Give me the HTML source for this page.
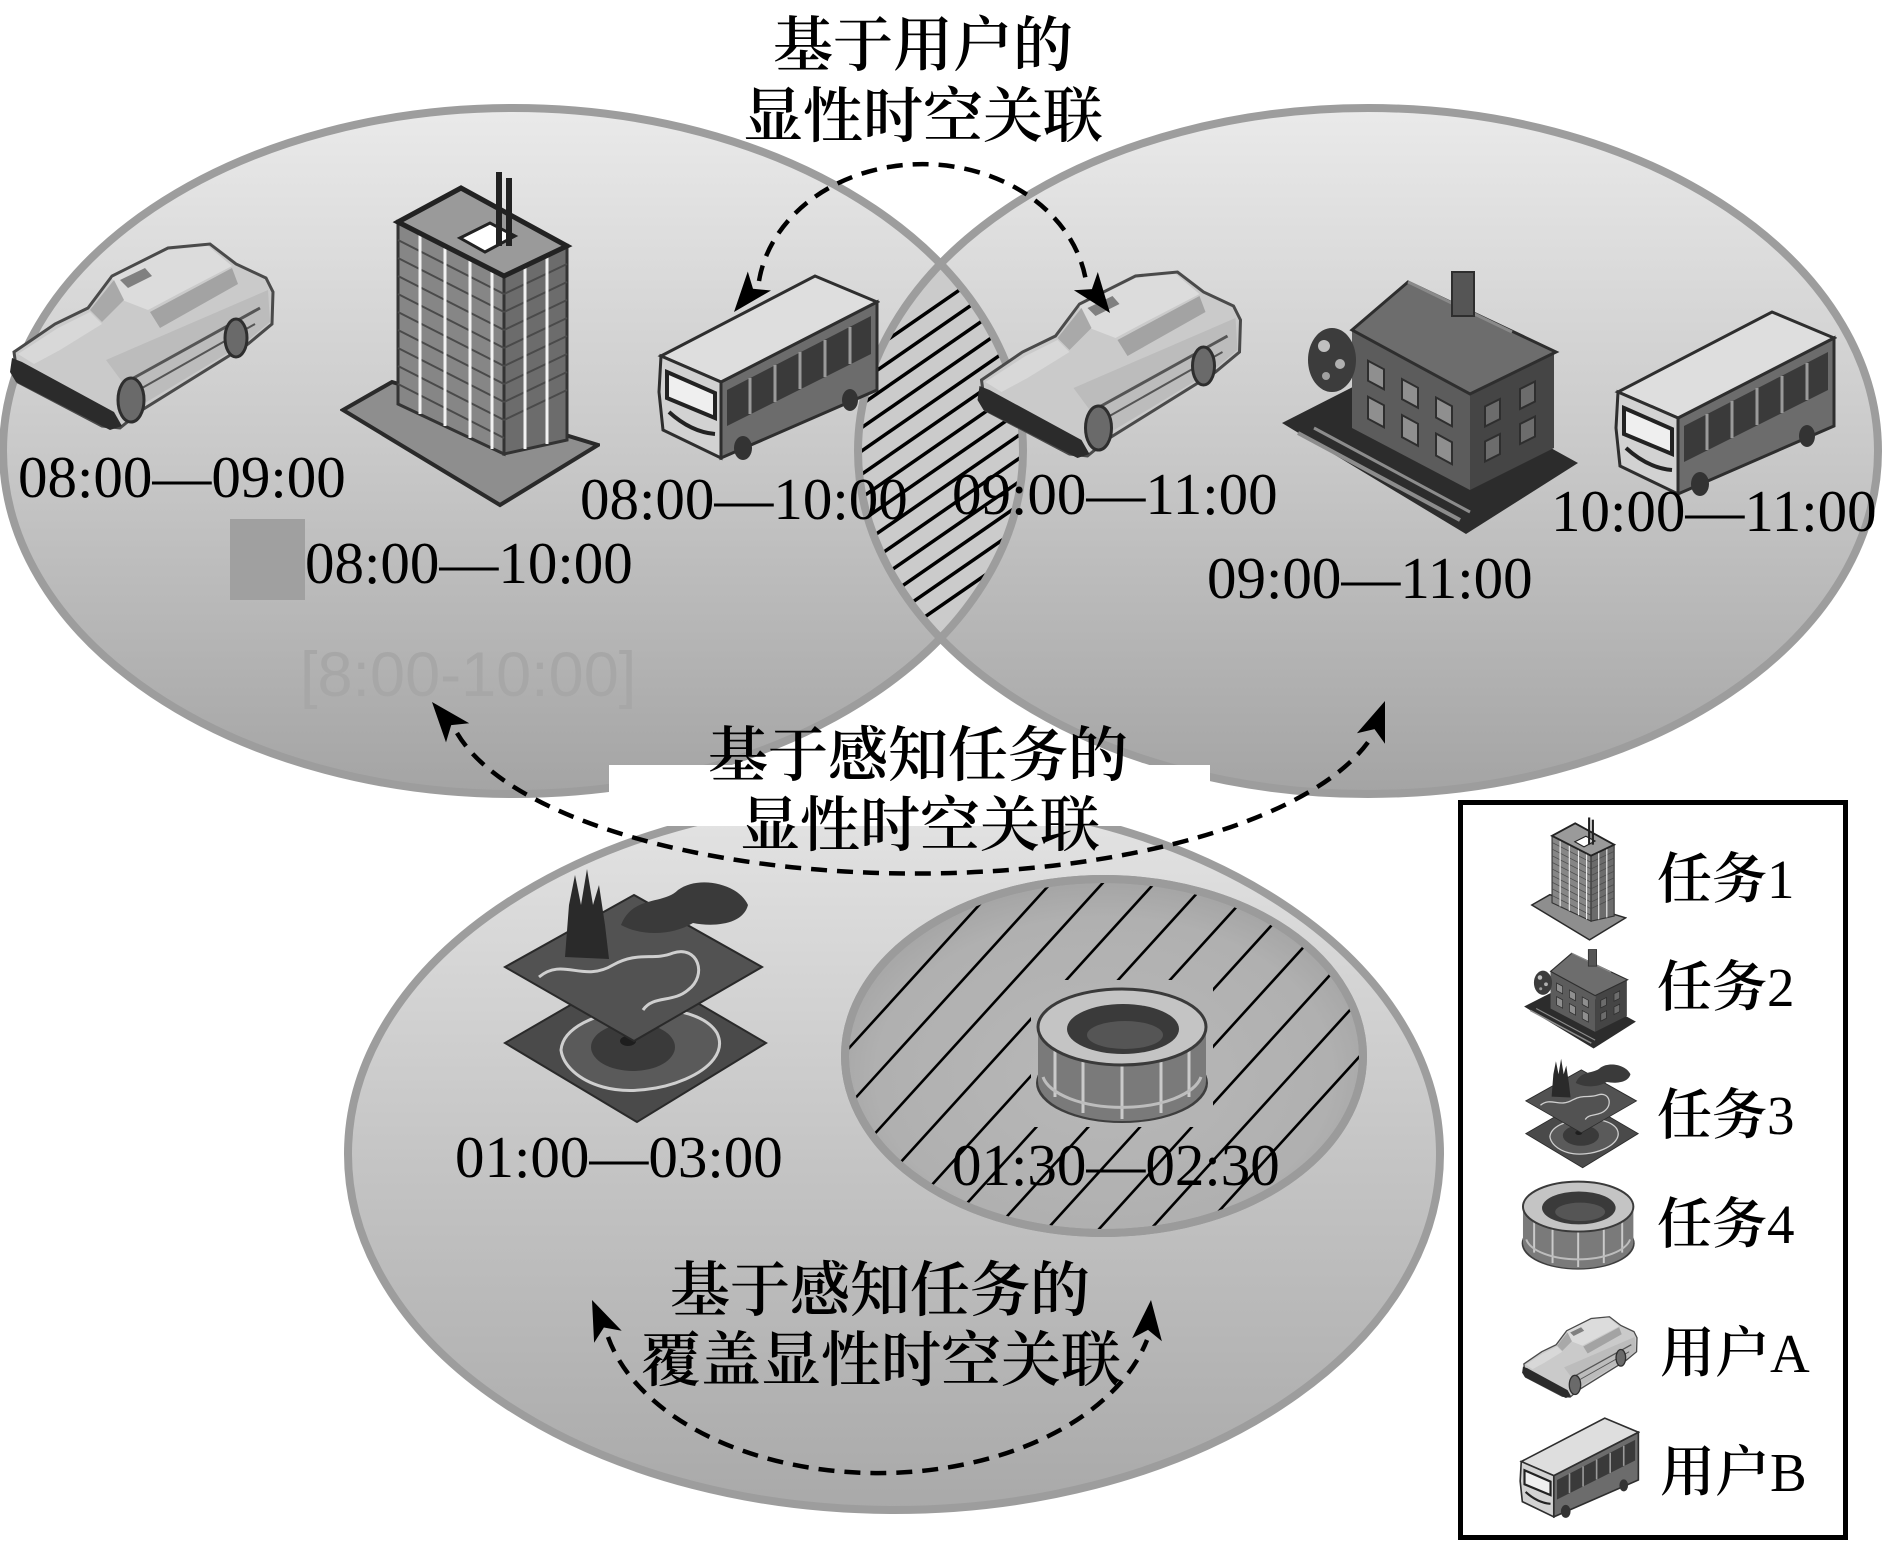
<!DOCTYPE html>
<html><head><meta charset="utf-8">
<style>
html,body{margin:0;padding:0;background:#fff;width:1887px;height:1543px;overflow:hidden;}
svg{display:block;position:absolute;left:0;top:0;overflow:hidden;}
.t{font-family:"Liberation Serif","Times New Roman",serif;font-size:59px;fill:#000;}
.c{font-family:"Liberation Serif","Noto Serif CJK SC","Noto Sans CJK SC",serif;font-size:60px;font-weight:600;fill:#000;}
.lg{font-family:"Liberation Serif","Noto Serif CJK SC","Noto Sans CJK SC",serif;font-size:55px;font-weight:600;fill:#000;}
.lg tspan{font-weight:400;}
</style></head>
<body>
<svg width="1887" height="1543" viewBox="0 0 1887 1543" xmlns="http://www.w3.org/2000/svg">
<defs>
  <linearGradient id="gE" x1="0" y1="0" x2="0" y2="1">
    <stop offset="0" stop-color="#eaeaea"/>
    <stop offset="0.5" stop-color="#c9c9c9"/>
    <stop offset="1" stop-color="#a4a4a4"/>
  </linearGradient>
  <linearGradient id="gB" x1="0" y1="0" x2="0" y2="1">
    <stop offset="0" stop-color="#e4e4e4"/>
    <stop offset="0.5" stop-color="#c5c5c5"/>
    <stop offset="1" stop-color="#a9a9a9"/>
  </linearGradient>
  <radialGradient id="gI" cx="0.5" cy="0.55" r="0.55">
    <stop offset="0" stop-color="#b8b8b8"/>
    <stop offset="0.8" stop-color="#b0b0b0"/>
    <stop offset="1" stop-color="#a4a4a4"/>
  </radialGradient>
  <clipPath id="cL"><ellipse cx="513" cy="451" rx="510" ry="343"/></clipPath>
  <clipPath id="cR"><ellipse cx="1368" cy="451" rx="510" ry="343"/></clipPath>
  <clipPath id="cI"><ellipse cx="1104" cy="1056" rx="259" ry="177"/></clipPath>
  <mask id="mI" maskUnits="userSpaceOnUse" x="840" y="870" width="530" height="375">
    <rect x="840" y="870" width="530" height="375" fill="#fff"/>
    <rect x="1031" y="980" width="182" height="147" fill="#000"/>
  </mask>

  <symbol id="car" viewBox="0 0 265 190">
    <path d="M4 112 L45 84 L78 68 L102 36 L158 8 L200 4 L226 24 L256 38 L263 52 L262 84 L238 104 L132 170 L110 188 L92 186 L8 142 Z" fill="#cacaca" stroke="#4a4a4a" stroke-width="3"/>
    <path d="M102 38 L158 10 L198 6 L222 26 L168 54 L138 70 L112 60 Z" fill="#dcdcdc"/>
    <path d="M80 70 L104 40 L114 60 L92 82 Z" fill="#a9a9a9"/>
    <path d="M140 72 L222 28 L228 44 L150 88 Z" fill="#a3a3a3"/>
    <path d="M8 114 L48 88 L80 72 L92 84 L50 110 L24 124 Z" fill="#d8d8d8"/>
    <path d="M96 120 L258 50 L260 82 L236 102 L130 166 Z" fill="#bcbcbc"/>
    <line x1="120" y1="140" x2="250" y2="68" stroke="#555" stroke-width="3"/>
    <line x1="125" y1="152" x2="245" y2="84" stroke="#555" stroke-width="2"/>
    <path d="M110 40 L135 28 L142 36 L118 48 Z" fill="#808080"/>
    <path d="M2 118 L12 122 L104 172 L112 186 L100 190 L6 142 L0 132 Z" fill="#2b2b2b"/>
    <ellipse cx="121" cy="160" rx="13" ry="22" fill="#6a6a6a" stroke="#2e2e2e" stroke-width="3"/>
    <ellipse cx="226" cy="98" rx="11" ry="19" fill="#6a6a6a" stroke="#2e2e2e" stroke-width="3"/>
  </symbol>

  <symbol id="bus" viewBox="0 0 225 190">
    <polygon points="66,110 222,30 222,118 66,186" fill="#6c6c6c" stroke="#2e2e2e" stroke-width="3"/>
    <polygon points="72,118 216,44 216,82 72,154" fill="#3a3a3a"/>
    <g stroke="#9a9a9a" stroke-width="3">
      <line x1="95" y1="106" x2="95" y2="142"/>
      <line x1="120" y1="93" x2="120" y2="130"/>
      <line x1="145" y1="80" x2="145" y2="117"/>
      <line x1="170" y1="68" x2="170" y2="105"/>
      <line x1="195" y1="55" x2="195" y2="92"/>
    </g>
    <polygon points="6,84 160,4 222,30 66,110" fill="#dedede" stroke="#2e2e2e" stroke-width="3"/>
    <polygon points="6,84 66,110 66,186 8,158 4,120" fill="#d2d2d2" stroke="#2e2e2e" stroke-width="3"/>
    <polygon points="12,100 60,121 60,146 12,126" fill="#efefef" stroke="#222" stroke-width="4"/>
    <path d="M14 140 Q 36 160 60 162" stroke="#222" stroke-width="4" fill="none"/>
    <ellipse cx="88" cy="176" rx="9" ry="12" fill="#333"/>
    <ellipse cx="195" cy="128" rx="8" ry="11" fill="#333"/>
  </symbol>

  <symbol id="bld" viewBox="0 0 260 340">
    <polygon points="3,242 52,214 258,277 160,337" fill="#8e8e8e" stroke="#2a2a2a" stroke-width="4"/>
    <polygon points="58,54 164,108 164,286 58,236" fill="#868686" stroke="#333" stroke-width="3"/>
    <polygon points="164,108 227,78 227,272 164,286" fill="#6c6c6c" stroke="#333" stroke-width="3"/>
    <g stroke="#4a4a4a" stroke-width="2">
      <line x1="58" y1="72" x2="164" y2="126"/><line x1="58" y1="90" x2="164" y2="144"/>
      <line x1="58" y1="108" x2="164" y2="162"/><line x1="58" y1="126" x2="164" y2="180"/>
      <line x1="58" y1="144" x2="164" y2="198"/><line x1="58" y1="162" x2="164" y2="216"/>
      <line x1="58" y1="180" x2="164" y2="234"/><line x1="58" y1="198" x2="164" y2="252"/>
      <line x1="58" y1="216" x2="164" y2="270"/>
      <line x1="164" y1="126" x2="227" y2="96"/><line x1="164" y1="144" x2="227" y2="114"/>
      <line x1="164" y1="162" x2="227" y2="132"/><line x1="164" y1="180" x2="227" y2="150"/>
      <line x1="164" y1="198" x2="227" y2="168"/><line x1="164" y1="216" x2="227" y2="186"/>
      <line x1="164" y1="234" x2="227" y2="204"/><line x1="164" y1="252" x2="227" y2="222"/>
    </g>
    <g stroke="#f2f2f2" stroke-width="3">
      <line x1="80" y1="66" x2="80" y2="246"/><line x1="105" y1="78" x2="105" y2="258"/>
      <line x1="130" y1="91" x2="130" y2="270"/><line x1="152" y1="102" x2="152" y2="281"/>
      <line x1="185" y1="98" x2="185" y2="281"/><line x1="207" y1="88" x2="207" y2="276"/>
    </g>
    <polygon points="58,54 121,20 227,78 164,108" fill="#9a9a9a" stroke="#222" stroke-width="5"/>
    <polygon points="120,70 150,55 175,68 145,84" fill="#fff" stroke="#222" stroke-width="3"/>
    <rect x="156" y="4" width="6" height="74" fill="#222"/>
    <rect x="166" y="10" width="6" height="68" fill="#222"/>
  </symbol>

  <symbol id="house" viewBox="0 0 300 270">
    <polygon points="2,155 118,96 298,195 186,266" fill="#2c2c2c"/>
    <line x1="18" y1="165" x2="180" y2="252" stroke="#8c8c8c" stroke-width="4"/>
    <line x1="34" y1="160" x2="190" y2="244" stroke="#8c8c8c" stroke-width="3"/>
    <polygon points="72,62 190,126 190,222 72,160" fill="#5c5c5c"/>
    <polygon points="190,126 274,84 274,180 190,222" fill="#454545"/>
    <g fill="#8f8f8f" stroke="#2e2e2e" stroke-width="2">
      <polygon points="88,92.7 104,101.3 104,121.3 88,112.7"/>
      <polygon points="88,128.7 104,137.3 104,159.3 88,150.7"/>
      <polygon points="122,111.1 138,119.8 138,139.8 122,131.1"/>
      <polygon points="122,147.1 138,155.8 138,177.8 122,169.1"/>
      <polygon points="156,129.5 172,138.2 172,158.2 156,149.5"/>
      <polygon points="156,165.5 172,174.2 172,196.2 156,187.5"/>
    </g>
    <g fill="#6c6c6c" stroke="#2e2e2e" stroke-width="2">
      <polygon points="205,138.5 220,131 220,151 205,158.5"/>
      <polygon points="205,173.5 220,166 220,186 205,193.5"/>
      <polygon points="240,121 255,113.5 255,133.5 240,141"/>
      <polygon points="240,156 255,148.5 255,168.5 240,176"/>
    </g>
    <polygon points="72,62 128,14 276,84 190,126" fill="#6d6d6d" stroke="#2e2e2e" stroke-width="3"/>
    <line x1="128" y1="14" x2="232" y2="64" stroke="#8a8a8a" stroke-width="3"/>
    <rect x="172" y="4" width="22" height="44" fill="#555" stroke="#2e2e2e" stroke-width="2"/>
    <ellipse cx="52" cy="92" rx="24" ry="32" fill="#3c3c3c"/>
    <circle cx="44" cy="78" r="6" fill="#c0c0c0"/>
    <circle cx="60" cy="96" r="5" fill="#b0b0b0"/>
    <circle cx="46" cy="108" r="4" fill="#a0a0a0"/>
  </symbol>

  <symbol id="map" viewBox="0 0 265 260">
    <polygon points="2,178 133,102 263,178 134,257" fill="#4a4a4a" stroke="#2a2a2a" stroke-width="2"/>
    <path d="M58 185 C 62 140, 190 128, 214 168 C 232 205, 150 236, 100 222 C 75 215, 60 200, 58 185 Z" fill="#5a5a5a" stroke="#cfcfcf" stroke-width="3"/>
    <ellipse cx="130" cy="182" rx="42" ry="24" fill="#3a3a3a"/>
    <ellipse cx="125" cy="176" rx="8" ry="5" fill="#1e1e1e"/>
    <polygon points="2,102 131,30 259,102 131,176" fill="#525252" stroke="#2a2a2a" stroke-width="2"/>
    <path d="M36 112 C 60 92, 80 118, 110 100 C 135 86, 150 96, 170 88 C 195 80, 205 110, 185 125 C 170 138, 150 130, 140 145" fill="none" stroke="#cfcfcf" stroke-width="3"/>
    <path d="M62 92 L66 40 L72 10 L78 40 L84 4 L90 40 L96 20 L102 60 L106 94 Z" fill="#2a2a2a"/>
    <path d="M118 60 C 130 30, 160 40, 175 25 C 195 10, 235 18, 245 40 C 240 60, 210 62, 190 58 C 170 70, 140 72, 118 60 Z" fill="#3a3a3a"/>
  </symbol>

  <symbol id="stad" viewBox="0 0 175 140">
    <ellipse cx="87" cy="98" rx="86" ry="40" fill="#3e3e3e"/>
    <path d="M3 42 L3 96 A 84 40 0 0 0 171 96 L171 42 Z" fill="#7a7a7a"/>
    <g stroke="#cacaca" stroke-width="3">
      <line x1="20" y1="66" x2="20" y2="112"/><line x1="48" y1="74" x2="48" y2="128"/>
      <line x1="87" y1="78" x2="87" y2="134"/><line x1="126" y1="74" x2="126" y2="128"/>
      <line x1="154" y1="66" x2="154" y2="112"/>
    </g>
    <path d="M8 92 A 80 36 0 0 0 166 92" fill="none" stroke="#bdbdbd" stroke-width="3"/>
    <ellipse cx="87" cy="42" rx="84" ry="38" fill="#c4c4c4" stroke="#3a3a3a" stroke-width="3"/>
    <ellipse cx="88" cy="44" rx="56" ry="25" fill="#3a3a3a"/>
    <ellipse cx="90" cy="50" rx="38" ry="14" fill="#555"/>
  </symbol>
</defs>

<rect x="0" y="0" width="1887" height="1543" fill="#fff"/>

<!-- bottom big ellipse -->
<ellipse cx="894" cy="1154" rx="546" ry="356" fill="url(#gB)" stroke="#9d9d9d" stroke-width="8"/>

<!-- inner hatched ellipse -->
<ellipse cx="1104" cy="1056" rx="259" ry="177" fill="url(#gI)" stroke="#9b9b9b" stroke-width="8"/>
<g clip-path="url(#cI)">
  <g mask="url(#mI)" stroke="#000" stroke-width="2.6">
    <line x1="840" y1="1058" x2="1006.4" y2="875"/>
    <line x1="840" y1="1115" x2="1058.2" y2="875"/>
    <line x1="840" y1="1172" x2="1110" y2="875"/>
    <line x1="840" y1="1229" x2="1161.8" y2="875"/>
    <line x1="881.8" y1="1240" x2="1213.6" y2="875"/>
    <line x1="933.6" y1="1240" x2="1265.5" y2="875"/>
    <line x1="985.5" y1="1240" x2="1317.3" y2="875"/>
    <line x1="1037.3" y1="1240" x2="1369.1" y2="875"/>
    <line x1="1089.1" y1="1240" x2="1370" y2="931"/>
    <line x1="1140.9" y1="1240" x2="1370" y2="988"/>
    <line x1="1192.7" y1="1240" x2="1370" y2="1045"/>
  </g>
</g>
<ellipse cx="1104" cy="1056" rx="259" ry="177" fill="none" stroke="#9b9b9b" stroke-width="8"/>

<!-- top ellipses -->
<ellipse cx="513" cy="451" rx="510" ry="343" fill="url(#gE)"/>
<ellipse cx="1368" cy="451" rx="510" ry="343" fill="url(#gE)"/>
<g clip-path="url(#cL)">
  <g clip-path="url(#cR)">
    <rect x="850" y="250" width="180" height="400" fill="#cbcbcb"/>
    <g stroke="#000" stroke-width="3.5">
      <line x1="840" y1="372.7" x2="1040" y2="234.3"/>
      <line x1="840" y1="396" x2="1040" y2="257.6"/>
      <line x1="840" y1="419.3" x2="1040" y2="280.9"/>
      <line x1="840" y1="442.6" x2="1040" y2="304.2"/>
      <line x1="840" y1="465.9" x2="1040" y2="327.5"/>
      <line x1="840" y1="489.2" x2="1040" y2="350.8"/>
      <line x1="840" y1="512.5" x2="1040" y2="374.1"/>
      <line x1="840" y1="535.8" x2="1040" y2="397.4"/>
      <line x1="840" y1="559.1" x2="1040" y2="420.7"/>
      <line x1="840" y1="582.4" x2="1040" y2="444"/>
      <line x1="840" y1="605.7" x2="1040" y2="467.3"/>
      <line x1="840" y1="629" x2="1040" y2="490.6"/>
      <line x1="840" y1="652.3" x2="1040" y2="513.9"/>
      <line x1="840" y1="675.6" x2="1040" y2="537.2"/>
    </g>
  </g>
</g>
<ellipse cx="513" cy="451" rx="510" ry="343" fill="none" stroke="#9d9d9d" stroke-width="8"/>
<ellipse cx="1368" cy="451" rx="510" ry="343" fill="none" stroke="#9d9d9d" stroke-width="8"/>

<!-- faint artifacts -->
<rect x="230" y="519" width="75" height="81" fill="#a0a0a0"/>
<text x="300" y="696" font-family="Liberation Sans, Arial, sans-serif" font-size="63" fill="#a7a7a7">[8:00-10:00]</text>

<!-- icons -->
<use href="#car" x="10" y="240" width="265" height="190"/>
<use href="#bld" x="340" y="168" width="260" height="340"/>
<use href="#bus" x="655" y="272" width="225" height="190"/>
<use href="#car" x="975" y="268" width="270" height="190"/>
<use href="#house" x="1280" y="268" width="300" height="270"/>
<use href="#bus" x="1612" y="308" width="225" height="190"/>
<use href="#map" x="503" y="865" width="265" height="260"/>
<use href="#stad" x="1035" y="985" width="175" height="140"/>

<!-- time labels -->
<text class="t" x="18" y="497">08:00—09:00</text>
<text class="t" x="580" y="519">08:00—10:00</text>
<text class="t" x="305" y="583">08:00—10:00</text>
<text class="t" x="952" y="514">09:00—11:00</text>
<text class="t" x="1551" y="531">10:00—11:00</text>
<text class="t" x="1207" y="598">09:00—11:00</text>
<text class="t" x="455" y="1177">01:00—03:00</text>
<text class="t" x="952" y="1185">01:30—02:30</text>

<!-- white label background -->
<rect x="609" y="765" width="601" height="61" fill="#fff"/>

<!-- Chinese labels -->
<text class="c" x="923" y="66" text-anchor="middle">基于用户的</text>
<text class="c" x="923" y="137" text-anchor="middle">显性时空关联</text>
<text class="c" x="918" y="776" text-anchor="middle">基于感知任务的</text>
<text class="c" x="920" y="846" text-anchor="middle">显性时空关联</text>
<text class="c" x="880" y="1311" text-anchor="middle">基于感知任务的</text>
<text class="c" x="881" y="1381" text-anchor="middle">覆盖显性时空关联</text>

<!-- dashed arcs -->
<g fill="none" stroke="#000" stroke-width="4.5" stroke-dasharray="16 10">
  <path d="M 759 281 A 165 135 0 0 1 1086 281"/>
  <path d="M 457 733 A 470 180 0 0 0 1371 738"/>
  <path d="M 608 1337 A 277 175 0 0 0 1147 1340"/>
</g>
<!-- arrowheads -->
<g fill="#000">
  <polygon points="734,312 771,290.5 753,288.8 747.8,271.5"/>
  <polygon points="1110,313 1073.9,290.2 1091.9,289.1 1097.8,272"/>
  <polygon points="432,702 469.2,723.2 451.2,725.1 446,742.4"/>
  <polygon points="1385,701 1385,743.7 1374.5,729.1 1356.9,733.3"/>
  <polygon points="592,1300 621.7,1330.8 603.9,1327.5 594.1,1342.7"/>
  <polygon points="1151,1300 1161.9,1341.3 1148,1329.9 1132.1,1338.3"/>
</g>

<!-- legend -->
<rect x="1460.5" y="802.5" width="385" height="735" fill="#fff" stroke="#000" stroke-width="5"/>
<use href="#bld" x="1530" y="816" width="97" height="125"/>
<use href="#house" x="1520" y="948" width="120" height="102"/>
<use href="#map" x="1522" y="1057" width="120" height="112"/>
<use href="#stad" x="1517" y="1179" width="123" height="92"/>
<use href="#car" x="1520" y="1315" width="120" height="83" preserveAspectRatio="none"/>
<use href="#bus" x="1518" y="1415" width="122" height="105" preserveAspectRatio="none"/>
<text class="lg" x="1657" y="898">任务<tspan>1</tspan></text>
<text class="lg" x="1657" y="1006">任务<tspan>2</tspan></text>
<text class="lg" x="1657" y="1134">任务<tspan>3</tspan></text>
<text class="lg" x="1657" y="1243">任务<tspan>4</tspan></text>
<text class="lg" x="1660" y="1372">用户<tspan>A</tspan></text>
<text class="lg" x="1660" y="1491">用户<tspan>B</tspan></text>
</svg>
</body></html>
